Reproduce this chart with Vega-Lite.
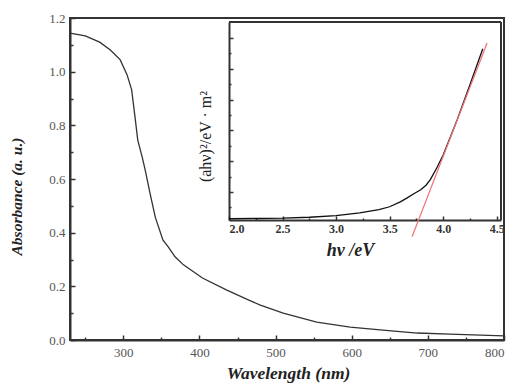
{
  "$schema": "https://vega.github.io/schema/vega-lite/v6.json",
  "width": 434,
  "height": 322,
  "autosize": {"type": "none"},
  "padding": {"left": 70, "top": 18, "right": 9, "bottom": 47},
  "background": "white",
  "config": {
    "font": "Liberation Serif",
    "view": {"stroke": "#333333", "strokeWidth": 2},
    "axis": {"labelFont": "Liberation Serif", "titleFont": "Liberation Serif", "domainColor": "#333333", "tickColor": "#333333", "grid": false}
  },
  "datasets": {
    "uv": [
      {"wl": 230, "A": 1.144}, {"wl": 250, "A": 1.133}, {"wl": 269, "A": 1.11}, {"wl": 283, "A": 1.081},
      {"wl": 296, "A": 1.044}, {"wl": 305, "A": 0.988}, {"wl": 311, "A": 0.932}, {"wl": 315, "A": 0.84},
      {"wl": 319, "A": 0.745}, {"wl": 325, "A": 0.68}, {"wl": 329, "A": 0.63}, {"wl": 335, "A": 0.548},
      {"wl": 342, "A": 0.458}, {"wl": 352, "A": 0.373}, {"wl": 359, "A": 0.347}, {"wl": 368, "A": 0.31},
      {"wl": 379, "A": 0.28}, {"wl": 404, "A": 0.231}, {"wl": 436, "A": 0.186}, {"wl": 462, "A": 0.152},
      {"wl": 480, "A": 0.13}, {"wl": 510, "A": 0.1}, {"wl": 554, "A": 0.067}, {"wl": 598, "A": 0.048},
      {"wl": 641, "A": 0.037}, {"wl": 686, "A": 0.026}, {"wl": 729, "A": 0.022}, {"wl": 800, "A": 0.015}
    ],
    "tauc": [
      {"E": 2.0, "v": 0.13, "s": "data"}, {"E": 2.5, "v": 0.15, "s": "data"}, {"E": 2.75, "v": 0.18, "s": "data"},
      {"E": 3.0, "v": 0.23, "s": "data"}, {"E": 3.22, "v": 0.32, "s": "data"}, {"E": 3.4, "v": 0.43, "s": "data"},
      {"E": 3.5, "v": 0.52, "s": "data"}, {"E": 3.6, "v": 0.68, "s": "data"}, {"E": 3.66, "v": 0.8, "s": "data"},
      {"E": 3.73, "v": 0.95, "s": "data"}, {"E": 3.79, "v": 1.07, "s": "data"}, {"E": 3.84, "v": 1.22, "s": "data"},
      {"E": 3.88, "v": 1.4, "s": "data"}, {"E": 3.94, "v": 1.78, "s": "data"}, {"E": 4.0, "v": 2.2, "s": "data"},
      {"E": 4.13, "v": 3.34, "s": "data"}, {"E": 4.25, "v": 4.48, "s": "data"}, {"E": 4.37, "v": 5.65, "s": "data"},
      {"E": 3.71, "v": -0.45, "s": "fit"}, {"E": 4.41, "v": 5.84, "s": "fit"}
    ]
  },
  "layer": [
    {
      "data": {"name": "uv"},
      "layer": [
        {
          "mark": {"type": "line", "color": "#333333", "strokeWidth": 1.3},
          "encoding": {
            "x": {
              "field": "wl", "type": "quantitative",
              "scale": {"domain": [230, 800], "nice": false, "zero": false},
              "axis": {
                "orient": "bottom",
                "title": "Wavelength (nm)",
                "values": [300, 400, 500, 600, 700, 800],
                "tickSize": -5, "tickWidth": 1.5, "domainWidth": 2,
                "labelFont": "Liberation Serif", "titleFont": "Liberation Serif",
                "labelFontSize": 13, "labelColor": "#555555", "labelPadding": 11,
                "titleFontSize": 17.5, "titleFontWeight": "bold", "titleFontStyle": "italic", "titleColor": "#222222",
                "titlePadding": 5, "titleX": 218
              }
            },
            "y": {
              "field": "A", "type": "quantitative",
              "scale": {"domain": [0, 1.2], "nice": false},
              "axis": {
                "orient": "left",
                "title": "Absorbance (a. u.)",
                "values": [0, 0.2, 0.4, 0.6, 0.8, 1.0, 1.2],
                "format": ".1f",
                "tickSize": -5, "tickWidth": 1.5, "domainWidth": 2,
                "labelFont": "Liberation Serif", "titleFont": "Liberation Serif",
                "labelFontSize": 13, "labelColor": "#555555", "labelPadding": 10,
                "titleFontSize": 15.5, "titleFontWeight": "bold", "titleFontStyle": "italic", "titleColor": "#222222",
                "titlePadding": 24, "titleY": 178
              }
            }
          }
        },
        {
          "mark": {"type": "line", "strokeOpacity": 0},
          "encoding": {
            "x": {
              "field": "wl", "type": "quantitative",
              "axis": {"orient": "bottom", "title": null, "values": [250, 350, 450, 550, 650, 750], "labels": false, "domain": false, "tickSize": -3, "tickWidth": 1.5}
            },
            "y": {
              "field": "A", "type": "quantitative",
              "axis": {"orient": "left", "title": null, "values": [0.1, 0.3, 0.5, 0.7, 0.9, 1.1], "labels": false, "domain": false, "tickSize": -3, "tickWidth": 1.5}
            }
          }
        }
      ],
      "resolve": {"axis": {"x": "independent", "y": "independent"}}
    },
    {
      "data": {"name": "tauc"},
      "layer": [
        {
          "mark": {"type": "line", "strokeWidth": 1.3},
          "encoding": {
            "x": {
              "field": "E", "type": "quantitative",
              "scale": {"domain": [2.0, 4.54], "nice": false, "zero": false, "range": [159, 431]},
              "axis": {
                "orient": "bottom", "offset": -120,
                "title": "hν /eV",
                "values": [2.0, 2.5, 3.0, 3.5, 4.0, 4.5],
                "format": ".1f",
                "tickSize": -4, "tickWidth": 1.5, "domainWidth": 2,
                "labelFont": "Liberation Serif", "titleFont": "Liberation Serif",
                "labelFontSize": 12, "labelFontWeight": "bold", "labelColor": "#333333", "labelPadding": 7,
                "titleFontSize": 18, "titleFontWeight": "bold", "titleFontStyle": "italic", "titleColor": "#222222",
                "titlePadding": 7, "titleX": 280
              }
            },
            "y": {
              "field": "v", "type": "quantitative",
              "scale": {"domain": [0.09, 6.52], "nice": false, "zero": false, "range": [202, 4]},
              "axis": {
                "orient": "left", "offset": -159,
                "title": "(ahν)²/eV · m²",
                "values": [1, 2, 3, 4, 5, 6],
                "labels": false,
                "tickSize": -4, "tickWidth": 1.5, "domainWidth": 2,
                "titleFont": "Liberation Serif",
                "titleFontSize": 16, "titleFontWeight": "normal", "titleColor": "#222222",
                "titlePadding": 15, "titleY": 118
              }
            },
            "color": {
              "field": "s", "type": "nominal",
              "scale": {"domain": ["data", "fit"], "range": ["#111111", "#ee7777"]},
              "legend": null
            },
            "strokeWidth": {
              "field": "s", "type": "nominal",
              "scale": {"domain": ["data", "fit"], "range": [1.4, 1]},
              "legend": null
            }
          }
        },
        {
          "mark": {"type": "line", "strokeOpacity": 0},
          "encoding": {
            "x": {
              "field": "E", "type": "quantitative",
              "axis": {"orient": "bottom", "offset": -120, "title": null, "values": [2.25, 2.75, 3.25, 3.75, 4.25], "labels": false, "domain": false, "tickSize": -2, "tickWidth": 1.5}
            },
            "y": {
              "field": "v", "type": "quantitative",
              "axis": {"orient": "left", "offset": -159, "title": null, "values": [0.5, 1.5, 2.5, 3.5, 4.5, 5.5], "labels": false, "domain": false, "tickSize": -2, "tickWidth": 1.5}
            }
          }
        },
        {
          "mark": {"type": "rule", "color": "#333333", "strokeWidth": 2},
          "encoding": {
            "x": {"datum": 2.0, "type": "quantitative", "axis": null},
            "x2": {"datum": 4.54},
            "y": {"datum": 6.52, "type": "quantitative", "axis": null}
          }
        },
        {
          "mark": {"type": "rule", "color": "#333333", "strokeWidth": 1.5},
          "encoding": {
            "x": {"datum": 4.54, "type": "quantitative", "axis": null},
            "y": {"datum": 0.09, "type": "quantitative", "axis": null},
            "y2": {"datum": 6.52}
          }
        }
      ],
      "resolve": {"axis": {"x": "independent", "y": "independent"}}
    }
  ],
  "resolve": {"scale": {"x": "independent", "y": "independent"}}
}
